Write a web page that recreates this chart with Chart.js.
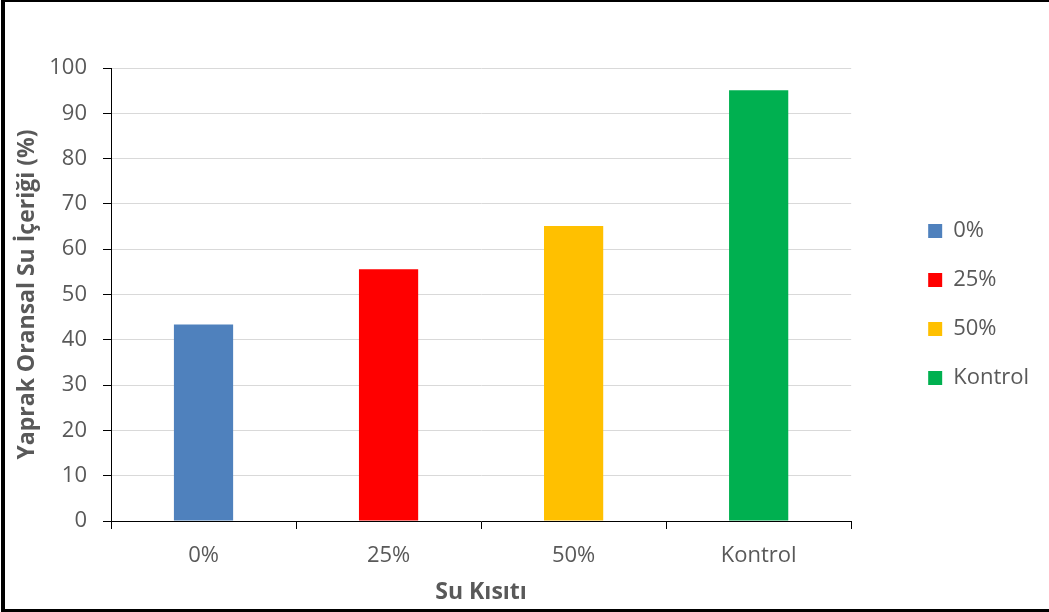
<!DOCTYPE html>
<html>
<head>
<meta charset="utf-8">
<script src="https://cdn.jsdelivr.net/npm/chart.js@4"></script>
<style>
  html, body { margin: 0; padding: 0; background: #fff; }
  #wrap { position: relative; width: 1049px; height: 612px; overflow: hidden; }
  #c { position: absolute; left: 0; top: 0; }
  #frame { position: absolute; left: 1px; top: 0; width: 1052px; height: 612px; box-sizing: border-box;
           border-left: 4px solid #000; border-top: 2px solid #000; border-bottom: 3px solid #000; pointer-events: none; }
</style>
</head>
<body>
<div id="wrap">
  <canvas id="c" width="1049" height="612"></canvas>
  <div id="frame"></div>
</div>
<script>
const categories = ['0%', '25%', '50%', 'Kontrol'];
const seriesNames = ['0%', '25%', '50%', 'Kontrol'];
const values = [43.4, 55.6, 65.1, 95.1];
const colors = ['#4F81BD', '#FF0000', '#FFC000', '#00B050'];
const yTicks = [0, 10, 20, 30, 40, 50, 60, 70, 80, 90, 100];
const yTitle = 'Yaprak Oransal Su İçeriği (%)';
const xTitle = 'Su Kısıtı';

const FONT = "'Open Sans', 'Liberation Sans', sans-serif";
const TXT = '#595959';

const datasets = seriesNames.map((name, i) => ({
  label: name,
  data: categories.map((_, j) => (j === i ? values[i] : null)),
  backgroundColor: colors[i],
  borderWidth: 0,
  grouped: false,
  barPercentage: 0.32,
  categoryPercentage: 1.0,
  xAxisID: 'x',
  yAxisID: 'y'
}));

new Chart(document.getElementById('c'), {
  type: 'bar',
  data: { labels: categories, datasets },
  options: {
    responsive: false,
    animation: false,
    devicePixelRatio: 1,
    layout: { padding: { left: 4, top: 2, bottom: 5, right: 10 } },
    plugins: {
      tooltip: { enabled: false },
      legend: {
        position: 'right',
        align: 'center',
        labels: {
          boxWidth: 14, boxHeight: 14, padding: 27,
          color: TXT,
          font: { family: FONT, size: 22 }
        }
      }
    },
    scales: {
      x: {
        type: 'category',
        position: 'bottom',
        offset: true,
        grid: { offset: true, drawOnChartArea: false, drawTicks: true, tickLength: 8, tickColor: '#000' },
        border: { display: true, color: '#000', width: 1 },
        ticks: { color: TXT, font: { family: FONT, size: 22 }, padding: 14, maxRotation: 0 },
        title: { display: true, text: xTitle, color: TXT, font: { family: FONT, size: 23, weight: 'bold' }, padding: { top: 0, bottom: 1 } },
        afterFit: s => { s.height = 86; }
      },
      xTop: {
        type: 'category',
        position: 'top',
        grid: { display: false },
        border: { display: false },
        ticks: { display: false },
        afterFit: s => { s.height = 66; }
      },
      y: {
        type: 'linear',
        position: 'left',
        min: 0, max: 100,
        afterBuildTicks: s => { s.ticks = yTicks.map(v => ({ value: v })); },
        grid: { color: '#D9D9D9', lineWidth: 1, drawTicks: true, tickLength: 8, tickColor: '#000' },
        border: { display: true, color: '#000', width: 1 },
        ticks: { color: TXT, font: { family: FONT, size: 22 }, padding: 16 },
        title: { display: true, text: yTitle, color: TXT, font: { family: FONT, size: 23, weight: 'bold' }, padding: { top: 10, bottom: 0 } },
        afterFit: s => { s.width = 107; }
      },
      yRight: {
        type: 'linear',
        position: 'right',
        grid: { display: false },
        border: { display: false },
        ticks: { display: false },
        afterFit: s => { s.width = 50; }
      }
    }
  }
});
</script>
</body>
</html>
